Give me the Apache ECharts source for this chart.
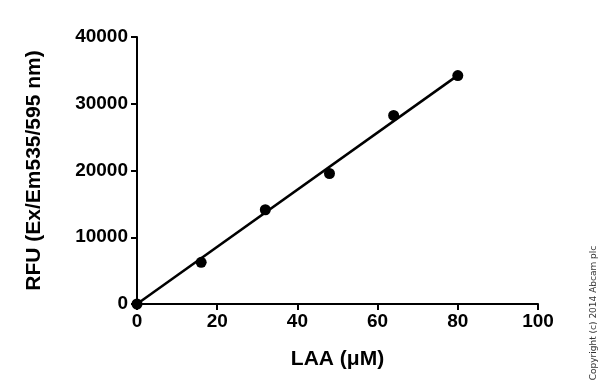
<!DOCTYPE html>
<html><head><meta charset="utf-8">
<script src="https://cdn.jsdelivr.net/npm/echarts@6/dist/echarts.min.js"></script>
<style>html,body{margin:0;padding:0;background:#fff}#c{width:600px;height:390px}</style>
</head><body><div id="c"></div>
<script>
var xValues = [0, 16, 32, 48, 64, 80];
var yValues = [0, 6250, 14120, 19550, 28250, 34230];
var fitX = [0, 80];
var fitY = [0, 34250];
var xTicks = [0, 20, 40, 60, 80, 100];
var yTicks = [0, 10000, 20000, 30000, 40000];
var xTitle = 'LAA (\u03bcM)';
var yTitle = 'RFU (Ex/Em535/595 nm)';
var copyright = 'Copyright (c) 2014 Abcam plc';

var chart = echarts.init(document.getElementById('c'), null, {renderer: 'canvas'});
var font = 'Liberation Sans, Arial, sans-serif';
var axisCommon = {
  axisLine: {show: true, onZero: false, lineStyle: {color: '#000', width: 2}},
  axisTick: {show: true, inside: false, length: 6, lineStyle: {color: '#000', width: 2}},
  splitLine: {show: false},
  axisLabel: {color: '#000', fontFamily: font, fontWeight: 'bold', fontSize: 19,
    formatter: function (v) { return String(v); }},
  nameTextStyle: {color: '#000', fontFamily: font, fontWeight: 'bold', fontSize: 21}
};
chart.setOption({
  animation: false,
  backgroundColor: '#fff',
  grid: {left: 137, right: 62, top: 37, bottom: 86, containLabel: false},
  xAxis: Object.assign({}, axisCommon, {
    type: 'value', min: xTicks[0], max: xTicks[xTicks.length - 1], interval: 20,
    name: xTitle, nameLocation: 'middle', nameGap: 45,
    axisLabel: Object.assign({}, axisCommon.axisLabel, {margin: 8})
  }),
  yAxis: Object.assign({}, axisCommon, {
    type: 'value', min: yTicks[0], max: yTicks[yTicks.length - 1], interval: 10000,
    name: yTitle, nameLocation: 'middle', nameGap: 92, nameRotate: 90,
    axisLabel: Object.assign({}, axisCommon.axisLabel, {margin: 9})
  }),
  series: [
    {type: 'line', data: fitX.map(function (x, i) { return [x, fitY[i]]; }),
     showSymbol: false, symbol: 'none', lineStyle: {color: '#000', width: 2.5}, z: 2},
    {type: 'scatter', data: xValues.map(function (x, i) { return [x, yValues[i]]; }),
     symbol: 'circle', symbolSize: 11, itemStyle: {color: '#000', opacity: 1}, z: 3}
  ],
  graphic: [{
    type: 'text', x: 594, y: 313, rotation: Math.PI / 2,
    style: {text: copyright, fill: '#333', font: '9px DejaVu Sans, sans-serif', textAlign: 'center', textVerticalAlign: 'middle'}
  }]
});
</script></body></html>
